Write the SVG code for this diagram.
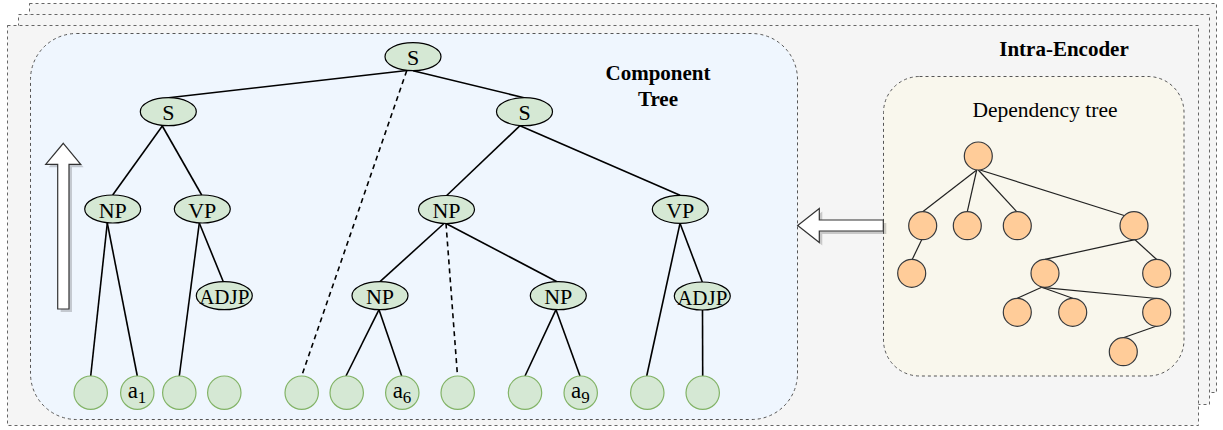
<svg xmlns="http://www.w3.org/2000/svg" width="1223" height="430" viewBox="0 0 1223 430">
<style>
.page{fill:#f5f5f5;stroke:#666;stroke-width:1;stroke-dasharray:3 3}
.box{stroke:#555;stroke-width:1;stroke-dasharray:3 3}
.ctn ellipse{fill:#d5e8d4;stroke:#000;stroke-width:1.2}
.leaf circle{fill:#d5e8d4;stroke:#82b366;stroke-width:1.2}
.dep circle{fill:#ffcc99;stroke:#36393d;stroke-width:1.2}
.lbl{font-family:"Liberation Serif","Times New Roman",serif;font-size:21px;fill:#000;text-anchor:middle}
.ctn .lbl{font-size:22px}
.leaf .lbl{font-size:23px}
.bold{font-weight:bold}
.e{stroke:#000;stroke-width:1.6;fill:none}
.d{stroke:#000;stroke-width:1.6;fill:none;stroke-dasharray:5 4}
.de{stroke:#222;stroke-width:1.2;fill:none}
.arr{fill:#fff;stroke:#333;stroke-width:1.2}
.sh{fill:#000;opacity:0.18}
</style>
<g id="pages">
<rect class="page" x="29.5" y="3.5" width="1187" height="389"/>
<rect class="page" x="18.5" y="14.5" width="1191" height="390"/>
<rect class="page" x="7.5" y="25.5" width="1191" height="400"/>
</g>
<g id="component-box">
<rect class="box" x="30.5" y="33.5" width="767" height="386" rx="46" ry="46" fill="#eff6fe"/>
<text class="lbl bold" x="658" y="80">Component</text>
<text class="lbl bold" x="658" y="106">Tree</text>
</g>
<text id="intra-label" class="lbl bold" x="1064" y="56">Intra-Encoder</text>
<g id="dependency-box">
<rect class="box" x="883.5" y="76.5" width="300.5" height="299.5" rx="36" ry="36" fill="#f9f7ed"/>
<text class="lbl" x="1045" y="116.5" style="font-size:21.5px">Dependency tree</text>
</g>
<g id="up-arrow">
<polygon class="sh" points="66.3,146.3 83.7,167.3 72,167.3 72,312 60.7,312 60.7,167.3 48.7,167.3"/>
<polygon class="arr" points="63.3,143.3 80.7,164.3 69,164.3 69,309 57.7,309 57.7,164.3 45.7,164.3"/>
</g>
<g id="left-arrow">
<polygon class="sh" points="800.7,228.5 822.3,211.5 822.3,223 886.3,223 886.3,234 822.3,234 822.3,245.5"/>
<polygon class="arr" points="797.7,225.5 819.3,208.5 819.3,220 883.3,220 883.3,231 819.3,231 819.3,242.5"/>
</g>
<g id="connectors">
<line class="e" x1="407" y1="70.5" x2="168.5" y2="97.7"/>
<line class="e" x1="413" y1="70.7" x2="524" y2="97.7"/>
<line class="d" x1="406.7" y1="70.7" x2="301.7" y2="376"/>
<line class="e" x1="162.3" y1="126" x2="112.7" y2="195"/>
<line class="e" x1="162.3" y1="126" x2="201.7" y2="195"/>
<line class="e" x1="107.3" y1="223" x2="90.7" y2="376"/>
<line class="e" x1="107.3" y1="223" x2="137.3" y2="376"/>
<line class="e" x1="199.3" y1="223" x2="179.3" y2="376"/>
<line class="e" x1="199.3" y1="223" x2="223.3" y2="281.7"/>
<line class="e" x1="520" y1="125.7" x2="446.7" y2="195.5"/>
<line class="e" x1="520" y1="125.7" x2="680" y2="195.3"/>
<line class="e" x1="444" y1="223.5" x2="380" y2="281.7"/>
<line class="d" x1="446" y1="223.5" x2="457.5" y2="376"/>
<line class="e" x1="446" y1="223.5" x2="557" y2="281.7"/>
<line class="e" x1="379" y1="309.7" x2="346" y2="376"/>
<line class="e" x1="379" y1="309.7" x2="401.7" y2="376"/>
<line class="e" x1="556" y1="309.7" x2="525" y2="376"/>
<line class="e" x1="556" y1="309.7" x2="580" y2="376"/>
<line class="e" x1="680" y1="223.3" x2="646.7" y2="376"/>
<line class="e" x1="680" y1="223.3" x2="702.3" y2="282"/>
<line class="e" x1="702.5" y1="310" x2="702.7" y2="376"/>
<line class="de" x1="976.7" y1="170" x2="922.7" y2="211.7"/>
<line class="de" x1="976.7" y1="170" x2="967.3" y2="211.7"/>
<line class="de" x1="978.3" y1="170" x2="1016.7" y2="211.7"/>
<line class="de" x1="980" y1="170" x2="1125" y2="215.7"/>
<line class="de" x1="921.7" y1="239.7" x2="912.3" y2="259.3"/>
<line class="de" x1="1135" y1="239.7" x2="1045" y2="259.3"/>
<line class="de" x1="1135" y1="239.7" x2="1156.7" y2="259.5"/>
<line class="de" x1="1041.7" y1="287.3" x2="1017.3" y2="298.3"/>
<line class="de" x1="1041.7" y1="287.3" x2="1072.7" y2="298.3"/>
<line class="de" x1="1041.7" y1="287.3" x2="1157" y2="298.5"/>
<line class="de" x1="1156.7" y1="326" x2="1123.3" y2="337.7"/>
</g>
<g class="ctn">
<g id="S0"><ellipse cx="413" cy="56.7" rx="28" ry="14"/><text class="lbl" x="413" y="65">S</text></g>
<g id="S1"><ellipse cx="168.3" cy="111.7" rx="28" ry="14"/><text class="lbl" x="168.3" y="120">S</text></g>
<g id="S2"><ellipse cx="524.5" cy="111.7" rx="28" ry="14"/><text class="lbl" x="524.5" y="120">S</text></g>
<g id="NP1"><ellipse cx="112.7" cy="209" rx="28" ry="14"/><text class="lbl" x="112.7" y="217.5">NP</text></g>
<g id="VP1"><ellipse cx="202.3" cy="209" rx="28" ry="14"/><text class="lbl" x="202.3" y="217.5">VP</text></g>
<g id="ADJP1"><ellipse cx="224.3" cy="295.7" rx="28" ry="14"/><text class="lbl" x="224.3" y="304.2" style="font-size:21px">ADJP</text></g>
<g id="NP2"><ellipse cx="446.5" cy="209.5" rx="28" ry="14"/><text class="lbl" x="446.5" y="218">NP</text></g>
<g id="VP2"><ellipse cx="680.3" cy="209.3" rx="28" ry="14"/><text class="lbl" x="680.3" y="217.8">VP</text></g>
<g id="NP3"><ellipse cx="380" cy="295.7" rx="28" ry="14"/><text class="lbl" x="380" y="304.2">NP</text></g>
<g id="NP4"><ellipse cx="558.3" cy="295.7" rx="28" ry="14"/><text class="lbl" x="558.3" y="304.2">NP</text></g>
<g id="ADJP2"><ellipse cx="702.3" cy="296" rx="28" ry="14"/><text class="lbl" x="702.3" y="304.5" style="font-size:21px">ADJP</text></g>
</g>
<g class="leaf">
<g id="L1"><circle cx="90.7" cy="392.7" r="16.7"/></g>
<g id="L2"><circle cx="137.3" cy="392.7" r="16.7"/><text class="lbl" x="137" y="398">a<tspan font-size="17" dy="5">1</tspan></text></g>
<g id="L3"><circle cx="179.3" cy="392.7" r="16.7"/></g>
<g id="L4"><circle cx="224.3" cy="392.7" r="16.7"/></g>
<g id="L5"><circle cx="301.7" cy="392.7" r="16.7"/></g>
<g id="L6"><circle cx="346.7" cy="392.7" r="16.7"/></g>
<g id="L7"><circle cx="402.3" cy="392.7" r="16.7"/><text class="lbl" x="402" y="398">a<tspan font-size="17" dy="5">6</tspan></text></g>
<g id="L8"><circle cx="457.7" cy="392.7" r="16.7"/></g>
<g id="L9"><circle cx="525" cy="392.7" r="16.7"/></g>
<g id="L10"><circle cx="580.7" cy="392.7" r="16.7"/><text class="lbl" x="580.4" y="398">a<tspan font-size="17" dy="5">9</tspan></text></g>
<g id="L11"><circle cx="647.3" cy="392.7" r="16.7"/></g>
<g id="L12"><circle cx="702.7" cy="392.7" r="16.7"/></g>
</g>
<g class="dep">
<g id="D0"><circle cx="978.3" cy="156" r="14"/></g>
<g id="D1"><circle cx="922.7" cy="225.7" r="14"/></g>
<g id="D2"><circle cx="967.3" cy="225.7" r="14"/></g>
<g id="D3"><circle cx="1017.3" cy="225.7" r="14"/></g>
<g id="D4"><circle cx="1134" cy="225.7" r="14"/></g>
<g id="D5"><circle cx="911.7" cy="273.3" r="14"/></g>
<g id="D6"><circle cx="1045" cy="273.3" r="14"/></g>
<g id="D7"><circle cx="1156.7" cy="273.3" r="14"/></g>
<g id="D8"><circle cx="1017.3" cy="312.3" r="14"/></g>
<g id="D9"><circle cx="1072.7" cy="312.3" r="14"/></g>
<g id="D10"><circle cx="1156.7" cy="312.3" r="14"/></g>
<g id="D11"><circle cx="1123.3" cy="351.7" r="14"/></g>
</g>
</svg>
